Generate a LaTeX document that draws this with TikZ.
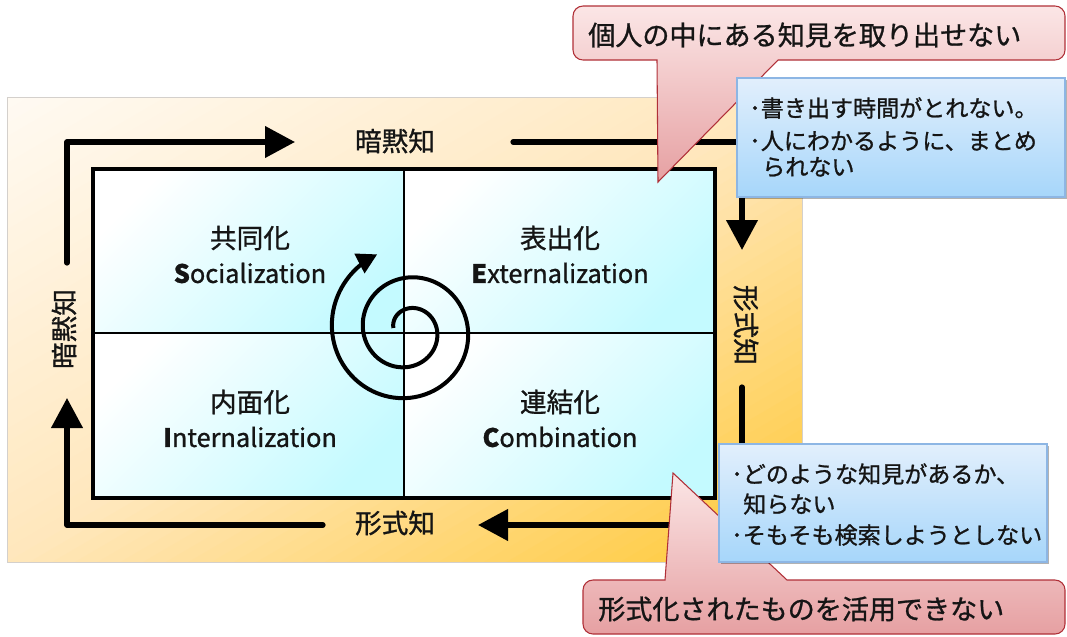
\documentclass[tikz,border=0pt]{standalone}
\usepackage{fontspec}
\newfontfamily\jp[FakeBold=1.0]{Noto Sans CJK JP}
\usetikzlibrary{arrows.meta,shadows}
\definecolor{bgA}{HTML}{FFFAF3}
\definecolor{bgM}{HTML}{FFE7BC}
\definecolor{bgB}{HTML}{FFC834}
\definecolor{bgLine}{HTML}{D4D0CC}
\definecolor{cellA}{HTML}{FFFFFF}
\definecolor{cellB}{HTML}{C4FAFF}
\definecolor{redA}{HTML}{FBE6E6}
\definecolor{redB}{HTML}{E6A0A2}
\definecolor{redLine}{HTML}{B03038}
\definecolor{bluA}{HTML}{E2EFFC}
\definecolor{bluB}{HTML}{A6D6FA}
\definecolor{bluLine}{HTML}{8DB6E4}
\definecolor{ink}{HTML}{151515}
\tikzset{
  bgedge/.style={draw=bgLine, line width=0.75pt},
  cell/.style={top color=cellA, bottom color=cellB, shading angle=45},
  frame/.style={draw=black, line width=2.3pt},
  divider/.style={draw=black, line width=2.1pt},
  flow/.style={draw=black, line width=3.9pt, line cap=round, line join=round, -{Triangle[length=22.5pt,width=23pt]}},
  spiralline/.style={draw=black, line width=3pt, -{Triangle[length=15pt,width=16pt]}},
  lbl/.style={font=\jp\fontsize{20}{24}\selectfont, text=ink, inner sep=0pt},
  qtitle/.style={font=\jp\fontsize{20}{24}\selectfont, text=ink, inner sep=0pt},
  qeng/.style={font=\jp\fontsize{19}{23}\selectfont, text=ink, inner sep=0pt},
  redcall/.style={top color=redA, bottom color=redB, draw=redLine, line width=0.8pt},
  bluebox/.style={top color=bluA, bottom color=bluB, draw=bluLine, line width=0.8pt,
    drop shadow={shadow xshift=1.5pt, shadow yshift=-1.5pt, opacity=0.3, fill=black}},
  calltext/.style={font=\jp\fontsize{20.3}{24}\selectfont, text=ink, inner sep=0pt, anchor=west},
  bluetext/.style={font=\jp\fontsize{17.3}{21}\selectfont, text=ink, inner sep=0pt, anchor=west}
}
\begin{document}
\begin{tikzpicture}[x=0.75pt,y=-0.75pt]
\useasboundingbox (0,0) rectangle (1067,636);
% background: diagonal gradient built from strips (isolines corner to corner)
\begin{scope}
\clip (7,97) rectangle (802,562);
\foreach \i in {0,...,69}{
  \pgfmathsetmacro\la{\i/70}
  \pgfmathsetmacro\lb{(\i+1.3)/70}
  \pgfmathsetmacro\lm{(\i+0.5)/70}
  \pgfmathsetmacro\pc{\lm<0.5 ? 200*\lm : 200*(\lm-0.5)}
  \ifdim\lm pt<0.5pt \colorlet{stripc}{bgM!\pc!bgA}\else\colorlet{stripc}{bgB!\pc!bgM}\fi
  \fill[stripc] ({7+\la*795-795},{97+\la*465+465}) -- ({7+\la*795+795},{97+\la*465-465})
    -- ({7+\lb*795+795},{97+\lb*465-465}) -- ({7+\lb*795-795},{97+\lb*465+465}) -- cycle;
}
\end{scope}
\path[bgedge] (7,97) rectangle (802,562);
% quadrant cells
\path[cell] (93,169) rectangle (404,333);
\path[cell] (404,169) rectangle (715,333);
\path[cell] (93,333) rectangle (404,498);
\path[cell] (404,333) rectangle (715,498);
\draw[divider] (404,169) -- (404,498);
\draw[divider] (93,333) -- (715,333);
\draw[frame] (93,169) rectangle (715,498);
% spiral
\draw[spiralline] plot[domain=188:968, samples=220, variable=\t]
  ({407.75+(0.0861*\t-1.75)*cos(\t)}, {330+(0.0861*\t-1.75)*sin(\t)});
% quadrant texts
\node[qtitle] (soc) at (250,238) {共同化};
\node[qeng] (socE) at (250,273) {{\bfseries S}ocialization};
\node[qtitle] (ext) at (560,238) {表出化};
\node[qeng] (extE) at (560,273) {{\bfseries E}xternalization};
\node[qtitle] (int) at (250,402) {内面化};
\node[qeng] (intE) at (250,437) {{\bfseries I}nternalization};
\node[qtitle] (com) at (560,402) {連結化};
\node[qeng] (comE) at (560,437) {{\bfseries C}ombination};
% axis labels
\node[lbl] (tacitT) at (395,141) {暗黙知};
\node[lbl, rotate=90] (tacitL) at (64,329) {暗黙知};
\node[lbl] (explB) at (395,523) {形式知};
\node[lbl, rotate=-90] (explR) at (746,325) {形式知};
% flow arrows
\coordinate (a1s) at (67,263); \coordinate (a1c) at (67,142); \coordinate (a1e) at (295,142);
\coordinate (a2s) at (513,142); \coordinate (a2c) at (742,142); \coordinate (a2e) at (742,250);
\coordinate (a3s) at (742,387); \coordinate (a3c) at (742,525); \coordinate (a3e) at (478,525);
\coordinate (a4s) at (323,525); \coordinate (a4c) at (67,525); \coordinate (a4e) at (67,398);
\draw[flow] (a1s) -- (a1c) -- (a1e);
\draw[flow] (a2s) -- (a2c) -- (a2e);
\draw[flow] (a3s) -- (a3c) -- (a3e);
\draw[flow] (a4s) -- (a4c) -- (a4e);
% red callouts
\path[redcall] (657,60) -- (658,182) -- (778,60) {[rounded corners=7.5pt] -- (1065,60) -- (1065,6) -- (573,6) -- (573,60)} -- cycle;
\node[calltext] (c1) at (588,35) {個人の中にある知見を取り出せない};
\path[redcall] (665,580) -- (673,473) -- (787,580) {[rounded corners=7.5pt] -- (1065,580) -- (1065,634) -- (583,634) -- (583,580)} -- cycle;
\node[calltext] (c2) at (598,609) {形式化されたものを活用できない};
% blue boxes
\path[bluebox] (737,78) rectangle (1065,197);
\node[bluetext] (b1) at (749,108) {･書き出す時間がとれない。};
\node[bluetext] (b2) at (749,141) {･人にわかるように、まとめ};
\node[bluetext] (b3) at (762,167) {られない};
\path[bluebox] (719,444) rectangle (1047,562);
\node[bluetext] (b4) at (731,474) {･どのような知見があるか、};
\node[bluetext] (b5) at (743,504) {知らない};
\node[bluetext] (b6) at (731,535) {･そもそも検索しようとしない};
\end{tikzpicture}
\end{document}
